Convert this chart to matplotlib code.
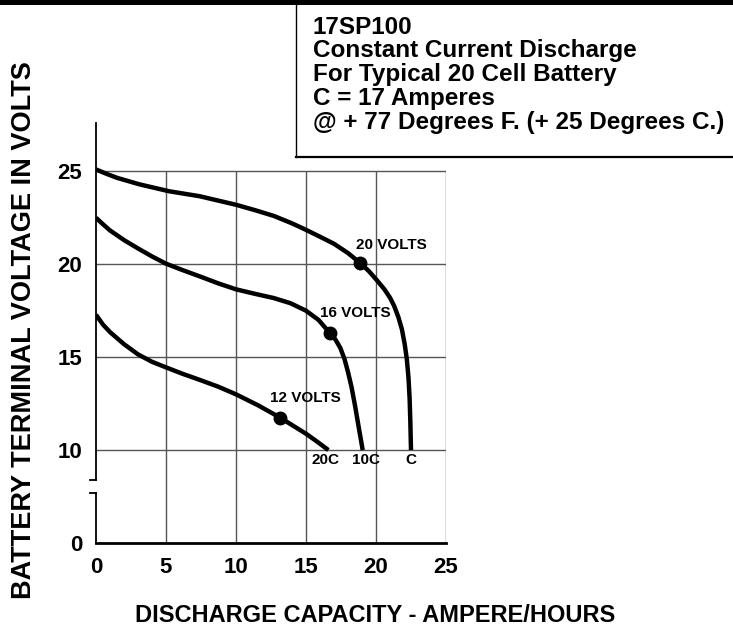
import numpy as np
import matplotlib
matplotlib.use("Agg")
import matplotlib.pyplot as plt
from matplotlib.lines import Line2D
from matplotlib.patches import Rectangle

plt.rcParams['font.family'] = ['Liberation Sans', 'DejaVu Sans']
plt.rcParams['font.weight'] = 'bold'

# --- data ---
# C rate curve
c_x = [0, 0.7, 1.5, 3.1, 5.2, 7.4, 10.0, 11.4, 12.7, 14.0, 15.0, 16.0, 17.0, 18.0, 18.9,
       19.5, 20.05, 20.6, 21.0, 21.3, 21.6, 21.85, 22.05, 22.2, 22.32, 22.4, 22.45, 22.5]
c_y = [25.1, 24.88, 24.65, 24.3, 23.93, 23.66, 23.2, 22.9, 22.6, 22.2, 21.85, 21.48, 21.1, 20.6, 20.05,
       19.62, 19.15, 18.65, 18.2, 17.75, 17.15, 16.5, 15.7, 14.9, 13.9, 12.8, 11.6, 10.0]

# 10C rate curve
c10_x = [0, 0.5, 1.0, 2.0, 3.0, 4.0, 5.0, 6.2, 7.4, 8.7, 10.0, 11.4, 12.7, 13.9, 15.0,
         15.9, 16.7, 17.1, 17.45, 17.75, 18.0, 18.25, 18.5, 18.75, 19.05]
c10_y = [22.5, 22.15, 21.82, 21.3, 20.85, 20.42, 20.03, 19.68, 19.35, 18.98, 18.65, 18.4, 18.18, 17.9, 17.5,
         17.0, 16.3, 15.95, 15.5, 14.9, 14.2, 13.4, 12.4, 11.3, 10.0]

# 20C rate curve
c20_x = [0, 0.5, 1.0, 2.0, 3.0, 4.0, 5.0, 6.2, 7.4, 8.7, 10.0, 11.6, 13.14, 14.1, 15.0, 15.8, 16.6]
c20_y = [17.28, 16.75, 16.35, 15.7, 15.15, 14.75, 14.45, 14.1, 13.78, 13.42, 13.0, 12.4, 11.75, 11.3,
         10.88, 10.45, 10.0]

# end voltage points
end_x = [18.88, 16.71, 13.14]
end_y = [20.05, 16.3, 11.75]
end_labels = ["20 VOLTS", "16 VOLTS", "12 VOLTS"]
end_label_pos = [(18.6, 21.05), (16.0, 17.4), (12.4, 12.8)]

rate_labels = ["20C", "10C", "C"]
rate_label_x = [16.4, 19.3, 22.5]

x_ticks = [0, 5, 10, 15, 20, 25]
y_ticks = [0, 10, 15, 20, 25]
h_grid = [10, 15, 20, 25]
v_grid = [5, 10, 15, 20, 25]

info_lines = ["17SP100",
              "Constant Current Discharge",
              "For Typical 20 Cell Battery",
              "C = 17 Amperes",
              "@ + 77 Degrees F. (+ 25 Degrees C.)"]


# broken y axis: 0..10 squeezed to half size
def fwd(y):
    y = np.asarray(y, dtype=float)
    return np.where(y >= 10, y - 5, y / 2)


def inv(y):
    y = np.asarray(y, dtype=float)
    return np.where(y >= 5, y + 5, y * 2)


fig = plt.figure(figsize=(7.33, 6.29), dpi=100)
ax = fig.add_axes([96/733, 86/629, 350/733, 420/629])
ax.set_yscale('function', functions=(fwd, inv))
ax.set_xlim(0, 25)
ax.set_ylim(0, 27.6)

# grid
ax.hlines(h_grid, 0, 25, color='#555555', lw=1.0, zorder=1)
ax.vlines(v_grid, 0, 25, color='#555555', lw=1.0, zorder=1)

# curves
for xs, ys in [(c_x, c_y), (c10_x, c10_y), (c20_x, c20_y)]:
    ax.plot(xs, ys, color='black', lw=3.2, solid_capstyle='butt',
            solid_joinstyle='round', zorder=3)
ax.plot(end_x, end_y, 'o', color='black', ms=9, zorder=4)

for lab, (lx, ly) in zip(end_labels, end_label_pos):
    ax.text(lx, ly, lab, ha='left', va='center', fontsize=11, fontweight='bold', zorder=5)
for lab, lx in zip(rate_labels, rate_label_x):
    ax.text(lx, 8.9, lab, ha='center', va='center', fontsize=11, fontweight='bold', zorder=5)

# axes lines
for s in ['top', 'right', 'left']:
    ax.spines[s].set_visible(False)
ax.spines['bottom'].set_linewidth(2)
ax.plot([0, 0], [6.8, 27.6], color='black', lw=1.3, clip_on=False)
ax.plot([0, 0], [0, 5.4], color='black', lw=1.3, clip_on=False)
ax.plot([-0.4, 0], [6.8, 6.8], color='black', lw=1.3, clip_on=False)
ax.plot([-0.4, 0], [5.4, 5.4], color='black', lw=1.3, clip_on=False)

ax.set_xticks(x_ticks)
ax.set_yticks(y_ticks)
ax.set_xticklabels([str(v) for v in x_ticks])
ax.set_yticklabels([str(v) for v in y_ticks])
ax.tick_params(length=0, labelsize=16)
ax.tick_params(axis='x', pad=10)
ax.tick_params(axis='y', pad=10)
for t in ax.get_xticklabels() + ax.get_yticklabels():
    t.set_fontweight('bold')

fig.text(24/733, 1 - 330/629, "BATTERY TERMINAL VOLTAGE IN VOLTS", rotation=90,
         ha='center', va='center', fontsize=19.5, fontweight='bold')
fig.text(375/733, 1 - 615/629, "DISCHARGE CAPACITY - AMPERE/HOURS",
         ha='center', va='center', fontsize=17, fontweight='bold')

# header bar and info box
fig.add_artist(Rectangle((0, 1 - 5/629), 1, 5/629, transform=fig.transFigure,
                         color='black', lw=0))
bx = 296/733
by = 1 - 157/629
fig.add_artist(Line2D([bx, bx], [by, 1], transform=fig.transFigure, color='black', lw=1))
fig.add_artist(Line2D([bx, 1], [by, by], transform=fig.transFigure, color='black', lw=1.6))
line_y = [28, 51, 75, 99, 123]
for txt, yy in zip(info_lines, line_y):
    fig.text(313/733, 1 - yy/629, txt, ha='left', va='center', fontsize=17.5,
             fontweight='bold')

fig.savefig("out.png", dpi=100)
